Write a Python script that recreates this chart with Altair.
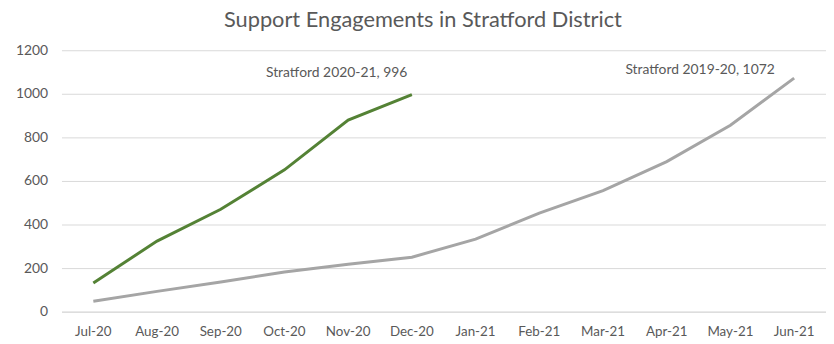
import altair as alt
import pandas as pd

months = ["Jul-20", "Aug-20", "Sep-20", "Oct-20", "Nov-20", "Dec-20",
          "Jan-21", "Feb-21", "Mar-21", "Apr-21", "May-21", "Jun-21"]
series_2020 = [132, 324, 470, 651, 879, 996]
series_2019 = [48, 93, 136, 182, 218, 250, 333, 452, 556, 689, 856, 1072]
name_2020 = "Stratford 2020-21"
name_2019 = "Stratford 2019-20"

rows = []
for i, v in enumerate(series_2019):
    rows.append({"month": months[i], "value": v, "series": name_2019})
for i, v in enumerate(series_2020):
    rows.append({"month": months[i], "value": v, "series": name_2020})
df = pd.DataFrame(rows)

lab = pd.DataFrame([
    {"month": months[len(series_2020) - 1], "value": series_2020[-1],
     "label": f"{name_2020}, {series_2020[-1]}", "series": name_2020},
    {"month": months[len(series_2019) - 1], "value": series_2019[-1],
     "label": f"{name_2019}, {series_2019[-1]}", "series": name_2019},
])

FONT = "Lato"
TXT = "#595959"
x = alt.X("month:N", sort=months, title=None,
          scale=alt.Scale(type="band", paddingInner=0, paddingOuter=0),
          axis=alt.Axis(labelAngle=0, ticks=False, domain=True, domainColor="#d9d9d9",
                        labelColor=TXT, labelFont=FONT, labelFontSize=13.5,
                        labelPadding=13, grid=False))
y = alt.Y("value:Q", title=None,
          scale=alt.Scale(domain=[0, 1200], nice=False),
          axis=alt.Axis(values=[0, 200, 400, 600, 800, 1000, 1200], format="d",
                        ticks=False, domain=False,
                        gridColor="#d9d9d9", labelColor=TXT, labelFont=FONT,
                        labelFontSize=14, labelPadding=14))

color = alt.Color("series:N", legend=None,
                  scale=alt.Scale(domain=[name_2019, name_2020], range=["#a5a5a5", "#548235"]))

lines = alt.Chart(df).mark_line(strokeWidth=3).encode(
    x=x, y=y, color=color, order=alt.Order("series:N", sort="ascending"))

t1 = alt.Chart(lab[lab.series == name_2020]).mark_text(
    font=FONT, fontSize=14, color=TXT, dx=-76, dy=-22).encode(
    x=alt.X("month:N", sort=months), y="value:Q", text="label:N")
t2 = alt.Chart(lab[lab.series == name_2019]).mark_text(
    font=FONT, fontSize=14, color=TXT, dx=-95, dy=-8).encode(
    x=alt.X("month:N", sort=months), y="value:Q", text="label:N")

chart = alt.layer(lines, t1, t2).properties(
    width=772, height=264,
    autosize=alt.AutoSizeParams(type="none"),
    padding={"left": 54, "top": 41, "right": 0, "bottom": 30},
    title=alt.TitleParams("Support Engagements in Stratford District", font=FONT,
                          fontSize=22, fontWeight="normal", color=TXT,
                          anchor="middle", dx=-21, offset=11),
).configure_view(stroke=None)

chart.save("out.html", embed_options={"renderer": "svg", "actions": False})
